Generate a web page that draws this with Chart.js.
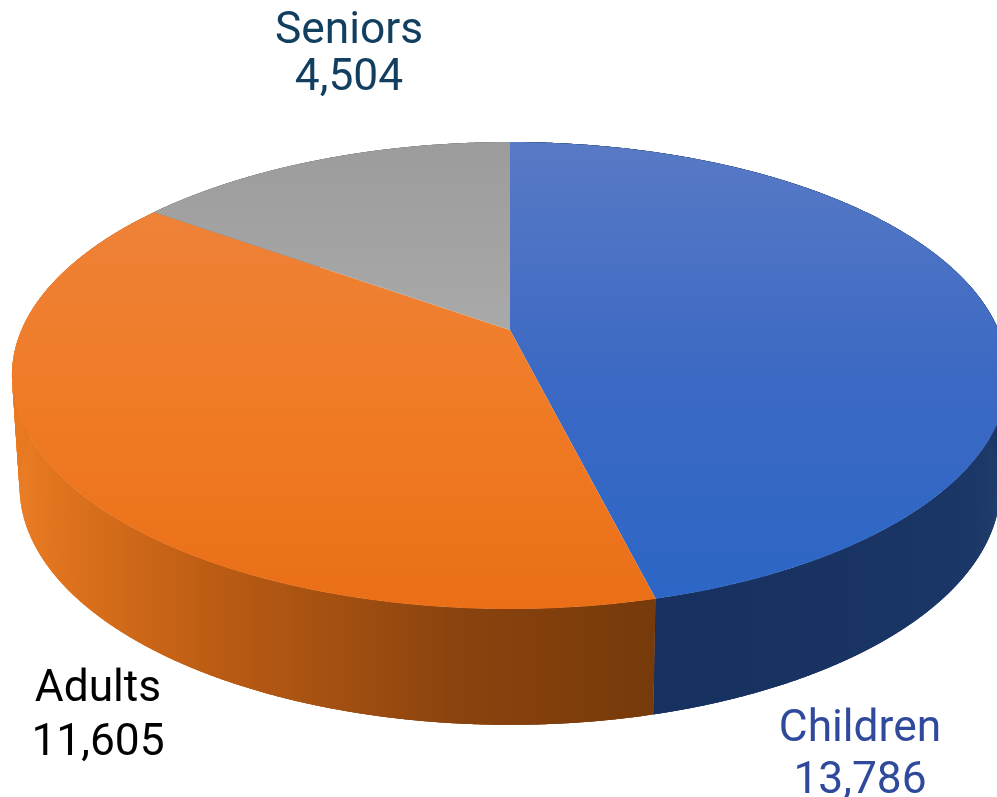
<!DOCTYPE html>
<html>
<head>
<meta charset="utf-8">
<style>html,body{margin:0;padding:0;background:#fff;overflow:hidden}canvas{display:block}</style>
<script src="https://cdn.jsdelivr.net/npm/chart.js@4"></script>
</head>
<body>
<canvas id="c" width="997" height="797"></canvas>
<script>
const categories = ['Children', 'Adults', 'Seniors'];
const values = [13786, 11605, 4504];
const valueLabels = ['13,786', '11,605', '4,504'];

// Styling and view geometry, separate from the data
const labelColors = ['#2f4a9c', '#000000', '#123f60'];
const labelAnchors = [[860, 741], [98, 701], [349, 43]];
const labelLineGaps = [52, 54, 47];
const topFaceStops = [
  [[0, '#587ac6'], [0.5, '#3c69c3'], [1, '#2c66c6']],
  [[0, '#ee8238'], [0.5, '#f07b25'], [1, '#ea6f17']],
  [[0, '#9c9c9c'], [1, '#a9a9a9']]
];
const wallStops = [
  [[0, '#16305f'], [1, '#1b3767']],
  [[0, '#ea7a20'], [0.3, '#bd5d14'], [0.7, '#8a430e'], [1, '#773a0a']],
  [[0, '#777777'], [1, '#777777']]
];
const tilt = -0.1949;
const topPlane = { cx: 510, cy: 330, sx: 488.5, sy: 224.6 };
const basePlane = { cx: 510, cy: 440, sx: 481, sy: 229.3 };

function project(plane, angle) {
  const x = Math.cos(angle), y = Math.sin(angle), w = 1 + tilt * y;
  return [plane.cx + plane.sx * x / w, plane.cy + plane.sy * y / w];
}
function traceCurve(ctx, plane, a0, a1) {
  const n = Math.max(8, Math.ceil(Math.abs(a1 - a0) * 90));
  for (let i = 0; i <= n; i++) {
    const p = project(plane, a0 + (a1 - a0) * i / n);
    ctx.lineTo(p[0], p[1]);
  }
}
function gradient(ctx, x0, y0, x1, y1, stops) {
  const g = ctx.createLinearGradient(x0, y0, x1, y1);
  stops.forEach(s => g.addColorStop(s[0], s[1]));
  return g;
}

const perspectivePie = {
  id: 'perspectivePie',
  beforeDatasetDraw(chart) {
    const ctx = chart.ctx;
    const arcs = chart.getDatasetMeta(0).data;
    // side wall, swept in small quads so the silhouette stays closed at the tangents
    arcs.forEach((arc, i) => {
      const a0 = arc.startAngle, a1 = arc.endAngle;
      ctx.fillStyle = i === 1
        ? gradient(ctx, 15, 0, 651, 0, wallStops[i])
        : gradient(ctx, 651, 0, 997, 0, wallStops[i]);
      const n = Math.ceil((a1 - a0) * 600);
      for (let k = 0; k < n; k++) {
        const s = a0 + (a1 - a0) * k / n;
        const e = a0 + (a1 - a0) * Math.min(n, k + 3) / n;
        const p = [project(topPlane, s), project(topPlane, e), project(basePlane, e), project(basePlane, s)];
        ctx.beginPath();
        ctx.moveTo(p[0][0], p[0][1]);
        ctx.lineTo(p[1][0], p[1][1]);
        ctx.lineTo(p[2][0], p[2][1]);
        ctx.lineTo(p[3][0], p[3][1]);
        ctx.closePath();
        ctx.fill();
      }
    });
    // top faces
    arcs.forEach((arc, i) => {
      ctx.beginPath();
      ctx.moveTo(topPlane.cx, topPlane.cy);
      traceCurve(ctx, topPlane, arc.startAngle, arc.endAngle);
      ctx.closePath();
      const y0 = i === 1 ? 213 : 142, y1 = i === 2 ? 330 : 607;
      ctx.fillStyle = gradient(ctx, 0, y0, 0, y1, topFaceStops[i]);
      ctx.fill();
    });
    return false;
  },
  afterDatasetsDraw(chart) {
    const ctx = chart.ctx;
    ctx.save();
    ctx.font = '400 44.3px Roboto';
    ctx.textAlign = 'center';
    ctx.textBaseline = 'alphabetic';
    categories.forEach((name, i) => {
      ctx.fillStyle = labelColors[i];
      const a = labelAnchors[i];
      ctx.fillText(name, a[0], a[1]);
      ctx.fillText(valueLabels[i], a[0], a[1] + labelLineGaps[i]);
    });
    ctx.restore();
  }
};

new Chart(document.getElementById('c'), {
  type: 'pie',
  data: { labels: categories, datasets: [{ data: values, borderWidth: 0 }] },
  options: {
    responsive: false,
    animation: false,
    layout: { padding: 0 },
    plugins: { legend: { display: false }, tooltip: { enabled: false } }
  },
  plugins: [perspectivePie]
});
</script>
</body>
</html>
